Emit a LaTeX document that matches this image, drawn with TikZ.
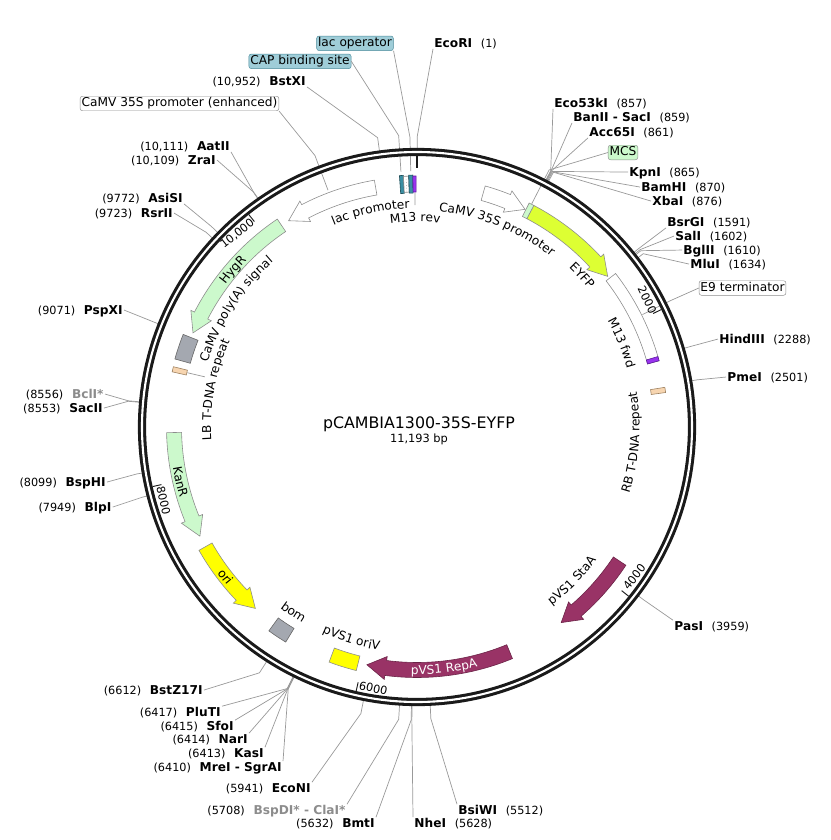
\documentclass[tikz,border=0pt]{standalone}
\usepackage{fontspec}
\setmainfont{DejaVu Sans}
\usetikzlibrary{decorations.text}
\definecolor{ringcol}{HTML}{1A1A1A}
\definecolor{hygcol}{HTML}{CCF9CC}
\definecolor{eyfpcol}{HTML}{DDFF33}
\definecolor{oricol}{HTML}{FFFF00}
\definecolor{repcol}{HTML}{993366}
\definecolor{repdraw}{HTML}{6B2347}
\definecolor{polycol}{HTML}{A4A8B0}
\definecolor{tdnacol}{HTML}{F7D5B0}
\definecolor{tdnadraw}{HTML}{9C8060}
\definecolor{lacol}{HTML}{3B8FA3}
\definecolor{lacdraw}{HTML}{1E4D58}
\definecolor{lacbox}{HTML}{9FCDD8}
\definecolor{lacboxdraw}{HTML}{4A8A9A}
\definecolor{m13col}{HTML}{9933EE}
\definecolor{m13draw}{HTML}{5A1A99}
\newcommand{\featfont}{\fontsize{10.4}{12.5}\selectfont}
\newcommand{\featarrow}[3]{%
  \pgfmathsetmacro\angA{(#2)-90}%
  \pgfmathsetmacro\angB{(#3)-90}%
  \pgfmathsetmacro\angH{\angB-4.5*sign((#3)-(#2))}%
  \draw[#1] (\angA:250.5) arc[start angle=\angA, end angle=\angH, radius=250.5]
    -- (\angH:254.5) -- (\angB:243) -- (\angH:231.5) -- (\angH:235.5)
    arc[start angle=\angH, end angle=\angA, radius=235.5] -- cycle;}
\newcommand{\featbox}[5]{%
  \pgfmathsetmacro\angA{(#2)-90}%
  \pgfmathsetmacro\angB{(#3)-90}%
  \draw[#1] (\angA:#4) arc[start angle=\angA, end angle=\angB, radius=#4]
    -- (\angB:#5) arc[start angle=\angB, end angle=\angA, radius=#5] -- cycle;}
\newcommand{\arclabel}[4][]{%
  \pgfmathsetmacro\angA{(#2)-115}%
  \pgfmathsetmacro\angB{(#2)-65}%
  \path[decorate, decoration={text along path, text align=center, text={|\featfont#1|#4}}]
    (\angA:#3) arc[start angle=\angA, end angle=\angB, radius=#3];}
\newcommand{\arclabelflip}[4][]{%
  \pgfmathsetmacro\angA{(#2)-65}%
  \pgfmathsetmacro\angB{(#2)-115}%
  \path[decorate, decoration={text along path, text align=center, text={|\featfont#1|#4}}]
    (\angA:#3) arc[start angle=\angA, end angle=\angB, radius=#3];}
\begin{document}
\begin{tikzpicture}[x=0.03cm, y=-0.03cm,
    site/.style={font=\fontsize{10.4}{12}\selectfont\bfseries, inner sep=1pt, text height=7.6pt, text depth=0pt},
    sitegray/.style={site, text=black!45},
    num/.style={font=\fontsize{9.6}{11}\selectfont, inner sep=1pt},
    tagbox/.style={draw=black!45, rounded corners=2pt, font=\featfont, inner sep=1.2pt, text height=7.8pt, text depth=2.2pt},
    leader/.style={draw=black!40, line width=0.6pt},
    tick/.style={draw=ringcol, line width=0.8pt},
    ticklabel/.style={font=\fontsize{9.6}{11}\selectfont, inner sep=0pt},
    whitefeat/.style={fill=white, draw=black!45, line width=0.5pt},
    greenfeat/.style={fill=hygcol, draw=black!45, line width=0.5pt},
    eyfpfeat/.style={fill=eyfpcol, draw=black!45, line width=0.5pt},
    yellowfeat/.style={fill=oricol, draw=black!45, line width=0.5pt},
    maroonfeat/.style={fill=repcol, draw=repdraw, line width=0.5pt},
    grayfeat/.style={fill=polycol, draw=black!60, line width=0.5pt},
    repeatfeat/.style={fill=tdnacol, draw=tdnadraw, line width=0.5pt},
    tealfeat/.style={fill=lacol, draw=lacdraw, line width=0.5pt},
    purplefeat/.style={fill=m13col, draw=m13draw, line width=0.5pt}]
  \useasboundingbox (0,0) rectangle (830,840);

  \node[site, anchor=base west] (ecori) at (433,47.5) {EcoRI};
  \node[num, anchor=base west] (n-ecori) at ([xshift=5pt]ecori.base east) {(1)};
  \node[site, anchor=base west] (eco53ki) at (553,107.5) {Eco53kI};
  \node[num, anchor=base west] (n-eco53ki) at ([xshift=5pt]eco53ki.base east) {(857)};
  \node[site, anchor=base west] (banii) at (572,121.5) {BanII - SacI};
  \node[num, anchor=base west] (n-banii) at ([xshift=5pt]banii.base east) {(859)};
  \node[site, anchor=base west] (acc65i) at (588,136.5) {Acc65I};
  \node[num, anchor=base west] (n-acc65i) at ([xshift=5pt]acc65i.base east) {(861)};
  \node[site, anchor=base west] (kpni) at (628,176.5) {KpnI};
  \node[num, anchor=base west] (n-kpni) at ([xshift=5pt]kpni.base east) {(865)};
  \node[site, anchor=base west] (bamhi) at (640,191.5) {BamHI};
  \node[num, anchor=base west] (n-bamhi) at ([xshift=5pt]bamhi.base east) {(870)};
  \node[site, anchor=base west] (xbai) at (651,205.5) {XbaI};
  \node[num, anchor=base west] (n-xbai) at ([xshift=5pt]xbai.base east) {(876)};
  \node[site, anchor=base west] (bsrgi) at (666,226.5) {BsrGI};
  \node[num, anchor=base west] (n-bsrgi) at ([xshift=5pt]bsrgi.base east) {(1591)};
  \node[site, anchor=base west] (sali) at (674,240.5) {SalI};
  \node[num, anchor=base west] (n-sali) at ([xshift=5pt]sali.base east) {(1602)};
  \node[site, anchor=base west] (bglii) at (682,254.5) {BglII};
  \node[num, anchor=base west] (n-bglii) at ([xshift=5pt]bglii.base east) {(1610)};
  \node[site, anchor=base west] (mlui) at (689,268.5) {MluI};
  \node[num, anchor=base west] (n-mlui) at ([xshift=5pt]mlui.base east) {(1634)};
  \node[site, anchor=base west] (hindiii) at (718,343.5) {HindIII};
  \node[num, anchor=base west] (n-hindiii) at ([xshift=5pt]hindiii.base east) {(2288)};
  \node[site, anchor=base west] (pmei) at (726,381.5) {PmeI};
  \node[num, anchor=base west] (n-pmei) at ([xshift=5pt]pmei.base east) {(2501)};
  \node[site, anchor=base west] (pasi) at (673,630.5) {PasI};
  \node[num, anchor=base west] (n-pasi) at ([xshift=5pt]pasi.base east) {(3959)};
  \node[site, anchor=base west] (bsiwi) at (457,814.5) {BsiWI};
  \node[num, anchor=base west] (n-bsiwi) at ([xshift=5pt]bsiwi.base east) {(5512)};
  \node[site, anchor=base west] (nhei) at (413,827.5) {NheI};
  \node[num, anchor=base west] (n-nhei) at ([xshift=5pt]nhei.base east) {(5628)};

  \node[site, anchor=base east] (bmti) at (376,827.5) {BmtI};
  \node[num, anchor=base east] (n-bmti) at ([xshift=-5pt]bmti.base west) {(5632)};
  \node[sitegray, anchor=base east] (bspdi) at (347,814.5) {BspDI* - ClaI*};
  \node[num, anchor=base east] (n-bspdi) at ([xshift=-5pt]bspdi.base west) {(5708)};
  \node[site, anchor=base east] (econi) at (312,792.5) {EcoNI};
  \node[num, anchor=base east] (n-econi) at ([xshift=-5pt]econi.base west) {(5941)};
  \node[site, anchor=base east] (mrei) at (283,771.5) {MreI - SgrAI};
  \node[num, anchor=base east] (n-mrei) at ([xshift=-5pt]mrei.base west) {(6410)};
  \node[site, anchor=base east] (kasi) at (265,757.5) {KasI};
  \node[num, anchor=base east] (n-kasi) at ([xshift=-5pt]kasi.base west) {(6413)};
  \node[site, anchor=base east] (nari) at (249,743.5) {NarI};
  \node[num, anchor=base east] (n-nari) at ([xshift=-5pt]nari.base west) {(6414)};
  \node[site, anchor=base east] (sfoi) at (235,730.5) {SfoI};
  \node[num, anchor=base east] (n-sfoi) at ([xshift=-5pt]sfoi.base west) {(6415)};
  \node[site, anchor=base east] (pluti) at (222,716.5) {PluTI};
  \node[num, anchor=base east] (n-pluti) at ([xshift=-5pt]pluti.base west) {(6417)};
  \node[site, anchor=base east] (bstz) at (204,694.5) {BstZ17I};
  \node[num, anchor=base east] (n-bstz) at ([xshift=-5pt]bstz.base west) {(6612)};
  \node[site, anchor=base east] (blpi) at (112.7,511.5) {BlpI};
  \node[num, anchor=base east] (n-blpi) at ([xshift=-5pt]blpi.base west) {(7949)};
  \node[site, anchor=base east] (bsphi) at (107,486.5) {BspHI};
  \node[num, anchor=base east] (n-bsphi) at ([xshift=-5pt]bsphi.base west) {(8099)};
  \node[site, anchor=base east] (sacii) at (104,412.5) {SacII};
  \node[num, anchor=base east] (n-sacii) at ([xshift=-5pt]sacii.base west) {(8553)};
  \node[sitegray, anchor=base east] (bcli) at (105,398.5) {BclI*};
  \node[num, anchor=base east] (n-bcli) at ([xshift=-5pt]bcli.base west) {(8556)};
  \node[site, anchor=base east] (pspxi) at (124,314.5) {PspXI};
  \node[num, anchor=base east] (n-pspxi) at ([xshift=-5pt]pspxi.base west) {(9071)};
  \node[site, anchor=base east] (rsrii) at (174,217.5) {RsrII};
  \node[num, anchor=base east] (n-rsrii) at ([xshift=-5pt]rsrii.base west) {(9723)};
  \node[site, anchor=base east] (asisi) at (184,202.5) {AsiSI};
  \node[num, anchor=base east] (n-asisi) at ([xshift=-5pt]asisi.base west) {(9772)};
  \node[site, anchor=base east] (zrai) at (217,164.5) {ZraI};
  \node[num, anchor=base east] (n-zrai) at ([xshift=-5pt]zrai.base west) {(10,109)};
  \node[site, anchor=base east] (aatii) at (231,150.5) {AatII};
  \node[num, anchor=base east] (n-aatii) at ([xshift=-5pt]aatii.base west) {(10,111)};
  \node[site, anchor=base east] (bstxi) at (307,85.5) {BstXI};
  \node[num, anchor=base east] (n-bstxi) at ([xshift=-5pt]bstxi.base west) {(10,952)};

  \node[tagbox, fill=lacbox, draw=lacboxdraw] (lacop) at (355,43.3) {lac operator};
  \node[tagbox, fill=lacbox, draw=lacboxdraw] (capbs) at (300,61.3) {CAP binding site};
  \node[tagbox, fill=white] (camvenh) at (179.5,103.5) {CaMV 35S promoter (enhanced)};
  \node[tagbox, fill=hygcol] (mcs) at (623,152.5) {MCS};
  \node[tagbox, fill=white] (eterm) at (742.5,288) {E9 terminator};

  \node[font=\fontsize{13.5}{16}\selectfont, anchor=base] (title) at (419,428.8) {pCAMBIA1300-35S-EYFP};
  \node[font=\fontsize{9.7}{11}\selectfont, anchor=base] (size) at (419,442.2) {11,193 bp};

  \begin{scope}[shift={(417,427)}]
    \coordinate (s-ecori) at (-89.97:275); \coordinate (b-ecori) at (-89.97:290);
    \coordinate (s-eco53ki) at (-62.44:275); \coordinate (b-eco53ki) at (-62.44:289);
    \coordinate (s-banii) at (-62.37:275); \coordinate (b-banii) at (-62.37:289);
    \coordinate (s-acc65i) at (-62.31:275); \coordinate (b-acc65i) at (-62.31:289);
    \coordinate (s-kpni) at (-62.18:275); \coordinate (b-kpni) at (-62.18:289);
    \coordinate (s-bamhi) at (-62.02:275); \coordinate (b-bamhi) at (-62.02:289);
    \coordinate (s-xbai) at (-61.83:275); \coordinate (b-xbai) at (-61.83:289);
    \coordinate (s-bsrgi) at (-38.83:275); \coordinate (b-bsrgi) at (-38.83:285);
    \coordinate (s-sali) at (-38.48:275); \coordinate (b-sali) at (-38.48:285);
    \coordinate (s-bglii) at (-38.22:275); \coordinate (b-bglii) at (-38.22:285);
    \coordinate (s-mlui) at (-37.45:275); \coordinate (b-mlui) at (-37.45:285);
    \coordinate (s-hindiii) at (-16.41:275); \coordinate (b-hindiii) at (-16.41:284);
    \coordinate (s-pmei) at (-9.56:275); \coordinate (b-pmei) at (-9.56:284);
    \coordinate (s-pasi) at (37.33:275); \coordinate (b-pasi) at (37.33:285);
    \coordinate (s-bsiwi) at (87.28:275); \coordinate (b-bsiwi) at (87.28:292);
    \coordinate (s-nhei) at (91.01:275); \coordinate (b-nhei) at (91.01:293);
    \coordinate (s-bmti) at (91.14:275); \coordinate (b-bmti) at (91.14:293);
    \coordinate (s-bspdi) at (93.59:275); \coordinate (b-bspdi) at (93.59:293);
    \coordinate (s-econi) at (101.08:275); \coordinate (b-econi) at (101.08:292);
    \coordinate (s-mrei) at (116.17:275); \coordinate (b-mrei) at (116.17:292);
    \coordinate (s-kasi) at (116.26:275); \coordinate (b-kasi) at (116.26:292);
    \coordinate (s-nari) at (116.30:275); \coordinate (b-nari) at (116.30:292);
    \coordinate (s-sfoi) at (116.33:275); \coordinate (b-sfoi) at (116.33:292);
    \coordinate (s-pluti) at (116.39:275); \coordinate (b-pluti) at (116.39:292);
    \coordinate (s-bstz) at (122.66:275); \coordinate (b-bstz) at (122.66:292);
    \coordinate (s-blpi) at (165.66:275); \coordinate (b-blpi) at (165.66:284);
    \coordinate (s-bsphi) at (170.49:275); \coordinate (b-bsphi) at (170.49:284);
    \coordinate (s-sacii) at (185.09:275); \coordinate (b-sacii) at (185.09:290);
    \coordinate (s-bcli) at (185.19:275); \coordinate (b-bcli) at (185.19:290);
    \coordinate (s-pspxi) at (201.75:275); \coordinate (b-pspxi) at (201.75:284);
    \coordinate (s-rsrii) at (222.72:275); \coordinate (b-rsrii) at (222.72:287);
    \coordinate (s-asisi) at (224.29:275); \coordinate (b-asisi) at (224.29:287);
    \coordinate (s-zrai) at (235.13:275); \coordinate (b-zrai) at (235.13:287);
    \coordinate (s-aatii) at (235.19:275); \coordinate (b-aatii) at (235.19:287);
    \coordinate (s-bstxi) at (262.25:275); \coordinate (b-bstxi) at (262.25:292);
    \coordinate (f-lacop) at (-91.4:256); \coordinate (b-lacop) at (-91.4:290);
    \coordinate (f-capbs) at (-93.6:256); \coordinate (b-capbs) at (-93.6:292);
    \coordinate (f-camvenh) at (-110.6:253); \coordinate (b-camvenh) at (-110.6:290);
    \coordinate (f-mcs) at (-62.8:251); \coordinate (b-mcs) at (-62.8:289);
    \coordinate (f-eterm) at (-26.5:252); \coordinate (b-eterm) at (-26.5:283);
    \coordinate (f-m13rev) at (-90.5:234); \coordinate (l-m13rev) at (-90.5:222);
    \coordinate (f-lb) at (-166.7:236); \coordinate (l-lb) at (-166.7:218);

    \draw[leader] (s-ecori) -- (b-ecori) -- (ecori.south west);
    \draw[leader] (s-eco53ki) -- (b-eco53ki) -- (eco53ki.south west);
    \draw[leader] (s-banii) -- (b-banii) -- (banii.south west);
    \draw[leader] (s-acc65i) -- (b-acc65i) -- (acc65i.south west);
    \draw[leader] (s-kpni) -- (b-kpni) -- (kpni.west);
    \draw[leader] (s-bamhi) -- (b-bamhi) -- (bamhi.west);
    \draw[leader] (s-xbai) -- (b-xbai) -- (xbai.west);
    \draw[leader] (s-bsrgi) -- (b-bsrgi) -- (bsrgi.south west);
    \draw[leader] (s-sali) -- (b-sali) -- (sali.west);
    \draw[leader] (s-bglii) -- (b-bglii) -- (bglii.west);
    \draw[leader] (s-mlui) -- (b-mlui) -- (mlui.west);
    \draw[leader] (s-hindiii) -- (b-hindiii) -- (hindiii.west);
    \draw[leader] (s-pmei) -- (b-pmei) -- (pmei.west);
    \draw[leader] (s-pasi) -- (b-pasi) -- (pasi.north west);
    \draw[leader] (s-bsiwi) -- (b-bsiwi) -- (bsiwi.north west);
    \draw[leader] (s-nhei) -- (b-nhei) -- (nhei.north west);
    \draw[leader] (s-bmti) -- (b-bmti) -- (bmti.north east);
    \draw[leader] (s-bspdi) -- (b-bspdi) -- (bspdi.north east);
    \draw[leader] (s-econi) -- (b-econi) -- (econi.north east);
    \draw[leader] (s-mrei) -- (b-mrei) -- (mrei.north east);
    \draw[leader] (s-kasi) -- (b-kasi) -- (kasi.north east);
    \draw[leader] (s-nari) -- (b-nari) -- (nari.north east);
    \draw[leader] (s-sfoi) -- (b-sfoi) -- (sfoi.north east);
    \draw[leader] (s-pluti) -- (b-pluti) -- (pluti.north east);
    \draw[leader] (s-bstz) -- (b-bstz) -- (bstz.east);
    \draw[leader] (s-blpi) -- (b-blpi) -- (blpi.east);
    \draw[leader] (s-bsphi) -- (b-bsphi) -- (bsphi.east);
    \draw[leader] (s-sacii) -- (b-sacii) -- (sacii.east);
    \draw[leader] (s-bcli) -- (b-bcli) -- (bcli.east);
    \draw[leader] (s-pspxi) -- (b-pspxi) -- (pspxi.east);
    \draw[leader] (s-rsrii) -- (b-rsrii) -- (rsrii.east);
    \draw[leader] (s-asisi) -- (b-asisi) -- (asisi.south east);
    \draw[leader] (s-zrai) -- (b-zrai) -- (zrai.east);
    \draw[leader] (s-aatii) -- (b-aatii) -- (aatii.south east);
    \draw[leader] (s-bstxi) -- (b-bstxi) -- (bstxi.south east);
    \draw[leader] (f-lacop) -- (b-lacop) -- (lacop.south east);
    \draw[leader] (f-capbs) -- (b-capbs) -- (capbs.east);
    \draw[leader] (f-camvenh) -- (b-camvenh) -- (camvenh.south east);
    \draw[leader] (f-mcs) -- (b-mcs) -- (mcs.west);
    \draw[leader] (f-eterm) -- (b-eterm) -- (eterm.west);
    \draw[leader] (f-m13rev) -- (l-m13rev);
    \draw[leader] (f-lb) -- (l-lb);

    \draw[ringcol, line width=7pt] (0,0) circle (275);
    \draw[white, line width=1.8pt] (0,0) circle (275);
    \draw[ringcol, line width=2.4pt] (-90:272) -- (-90:259);

    \draw[tick] (-25.67:271) -- (-25.67:262);
    \draw[tick] (38.65:271) -- (38.65:262);
    \draw[tick] (102.98:271) -- (102.98:262);
    \draw[tick] (167.30:271) -- (167.30:262);
    \draw[tick] (231.63:271) -- (231.63:262);
    \node[ticklabel, rotate=-64.3] (t2000) at (-28.9:263) {2000};
    \node[ticklabel, rotate=51.35] (t4000) at (34.6:264) {4000};
    \node[ticklabel, rotate=-12.98] (t6000) at (99.5:265) {6000};
    \node[ticklabel, rotate=-77.3] (t8000) at (163.8:264) {8000};
    \node[ticklabel, rotate=38.37] (t10000) at (-132.9:264) {10,000};

    \featarrow{whitefeat}{-9.8}{-31.9}
    \featarrow{greenfeat}{-33.9}{-67.2}
    \featbox{grayfeat}{-68.4}{-74.3}{235.5}{251.5}
    \featbox{repeatfeat}{-76.1}{-77.3}{236.5}{251}
    \featarrow{greenfeat}{268.7}{243.3}
    \featarrow{yellowfeat}{240.5}{221.7}
    \featbox{grayfeat}{211.4}{216}{236}{252}
    \featbox{yellowfeat}{194}{200.5}{236}{251}
    \featarrow{maroonfeat}{157.6}{191.9}
    \featarrow{maroonfeat}{123.5}{143.6}
    \featbox{repeatfeat}{80.9}{82.1}{236.5}{251}
    \featbox{whitefeat}{52.3}{74.7}{239}{251}
    \featbox{purplefeat}{73.7}{74.7}{239}{251}
    \featarrow{eyfpfeat}{27.8}{51.7}
    \featbox{greenfeat}{26.6}{27.8}{235.5}{250.5}
    \featarrow{whitefeat}{15.8}{26.4}
    \featbox{tealfeat}{-4.0}{-3.1}{234}{252}
    \featbox{whitefeat}{-3.1}{-1.9}{235}{251}
    \draw[dotted, black!60] (-92.5:236) -- (-92.5:250);
    \featbox{tealfeat}{-1.9}{-0.95}{234}{252}
    \featbox{purplefeat}{-0.95}{-0.2}{235}{251}

    \arclabel{-12.2}{218.5}{lac promoter}
    \arclabel{-0.5}{205.5}{M13 rev}
    \arclabel{22}{216.5}{CaMV 35S promoter}
    \arclabel{47.5}{220}{EYFP}
    \arclabel{67.7}{218}{M13 fwd}
    \arclabelflip{94.2}{222.5}{RB T-DNA repeat}
    \arclabelflip{134.8}{223.5}{pVS1 StaA}
    \arclabelflip[\color{white}]{173.6}{247.5}{pVS1 RepA}
    \arclabelflip{197.2}{226.5}{pVS1 oriV}
    \arclabelflip{213.7}{227}{bom}
    \arclabelflip{232}{247.5}{ori}
    \arclabelflip{257}{247.5}{KanR}
    \arclabel{-49.5}{238.5}{HygR}
    \arclabel{-57}{219}{CaMV poly(A) signal}
    \arclabel{-79.5}{206}{LB T-DNA repeat}
  \end{scope}
\end{tikzpicture}
\end{document}
